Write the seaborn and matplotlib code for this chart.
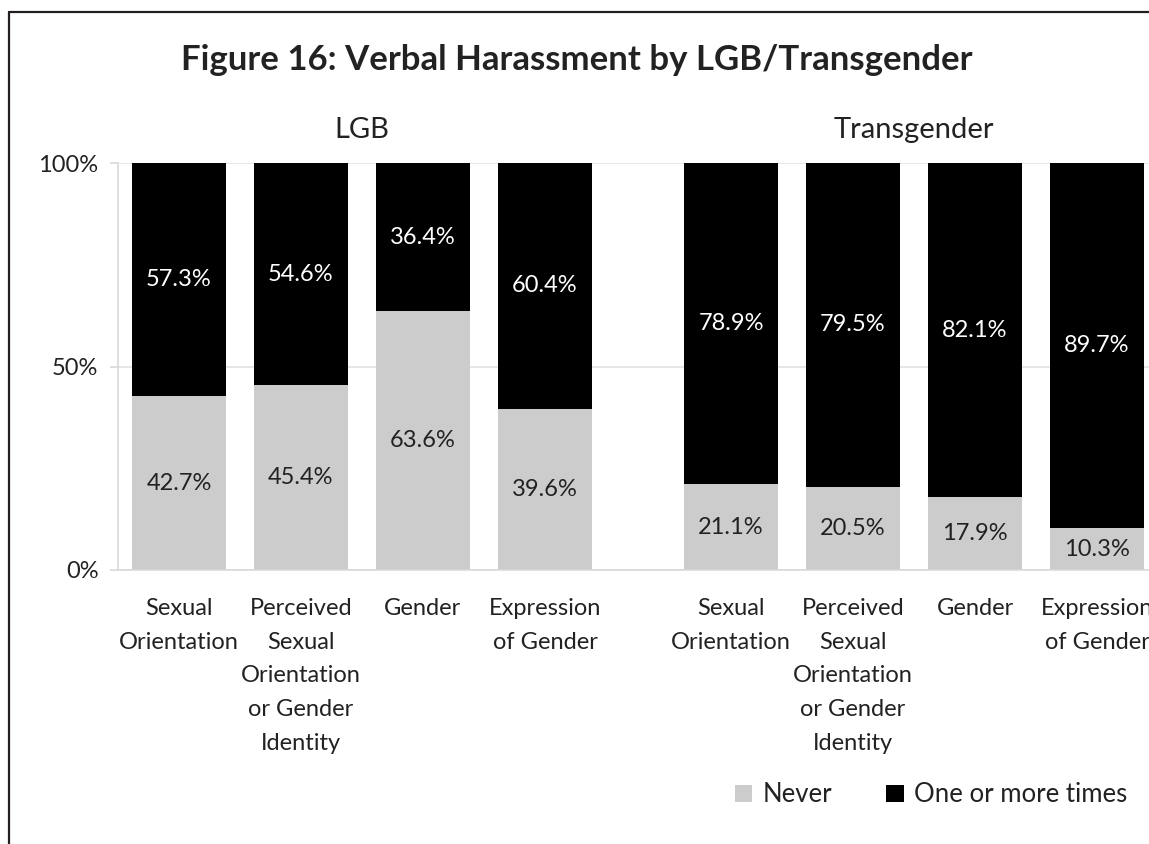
import pandas as pd
import matplotlib.pyplot as plt
import seaborn as sns
from matplotlib.lines import Line2D
from matplotlib.patches import Patch

# Data
groups = ["LGB", "LGB", "LGB", "LGB",
          "Transgender", "Transgender", "Transgender", "Transgender"]
categories = ["Sexual\nOrientation",
              "Perceived\nSexual\nOrientation\nor Gender\nIdentity",
              "Gender",
              "Expression\nof Gender"] * 2
never = [42.7, 45.4, 63.6, 39.6, 21.1, 20.5, 17.9, 10.3]
one_or_more = [57.3, 54.6, 36.4, 60.4, 78.9, 79.5, 82.1, 89.7]

# x positions: 4 bars per group, a narrow gap between the groups
gap = 1.525
pos = [i if i < 4 else i - 1 + gap for i in range(8)]

df = pd.DataFrame({"group": groups, "category": categories, "pos": pos,
                   "never": never, "one_or_more": one_or_more})
df["total"] = df["never"] + df["one_or_more"]

sns.set_style("white")
plt.rcParams["font.family"] = ["Lato", "DejaVu Sans"]

gray = "#cccccc"
dark = "#222222"

fig = plt.figure(figsize=(11.49, 8.44), dpi=100)
ax = fig.add_axes([118 / 1149, 274 / 844, 1040 / 1149, 407 / 844])

# stacked bars: full height in black, never part in gray on top of it
sns.barplot(data=df, x="pos", y="total", native_scale=True, color="black",
            width=0.77, errorbar=None, linewidth=0, saturation=1, ax=ax)
sns.barplot(data=df, x="pos", y="never", native_scale=True, color=gray,
            width=0.77, errorbar=None, linewidth=0, saturation=1, ax=ax)

# value labels
for _, row in df.iterrows():
    ax.text(row["pos"], row["never"] / 2, f"{row['never']:.1f}%",
            ha="center", va="center", fontsize=17, color=dark)
    ax.text(row["pos"], row["never"] + row["one_or_more"] / 2,
            f"{row['one_or_more']:.1f}%",
            ha="center", va="center", fontsize=17, color="white")

ax.set_xlim(-0.5, 7.525 + 0.5)
ax.set_ylim(0, 100)
ax.set_yticks([0, 50, 100])
ax.set_yticklabels(["0%", "50%", "100%"], fontsize=17, color=dark)
ax.yaxis.grid(True, color="#e3e3e3", linewidth=1.2)
ax.set_axisbelow(True)

ax.set_xticks(df["pos"])
ax.set_xticklabels(df["category"], fontsize=17, color=dark, linespacing=1.75)
bounds = [p - 0.5 for p in pos] + [pos[3] + 0.5, pos[-1] + 0.5]
ax.set_xticks(bounds, minor=True)
ax.tick_params(axis="x", which="major", length=0, pad=20)
ax.tick_params(axis="x", which="minor", length=6, color="#d9d9d9", width=1.2)
ax.tick_params(axis="y", length=6, color="#d9d9d9", width=1.2, pad=8,
               left=True)
ax.set_xlabel("")
ax.set_ylabel("")

for side in ["top", "right"]:
    ax.spines[side].set_visible(False)
for side in ["left", "bottom"]:
    ax.spines[side].set_color("#d9d9d9")
    ax.spines[side].set_linewidth(1.2)

# group headers
for name in ["LGB", "Transgender"]:
    xs = df.loc[df["group"] == name, "pos"]
    ax.text(xs.mean(), 108, name, ha="center", va="center",
            fontsize=21, color=dark)

fig.text(577 / 1149, 1 - 60 / 844,
         "Figure 16: Verbal Harassment by LGB/Transgender",
         ha="center", va="center", fontsize=25, fontweight="bold", color=dark)

handles = [Patch(facecolor=gray, edgecolor="none", label="Never"),
           Patch(facecolor="black", edgecolor="none", label="One or more times")]
fig.legend(handles=handles, loc="center left",
           bbox_to_anchor=(722 / 1149, 1 - 795 / 844), ncol=2, frameon=False,
           fontsize=18.5, handlelength=0.68, handleheight=0.68,
           handletextpad=0.4, columnspacing=2.1, borderpad=0,
           labelcolor=dark)

# border around the figure (clipped on the right and bottom)
fig.add_artist(Line2D([9 / 1149, 9 / 1149], [0, 1 - 12 / 844],
                      transform=fig.transFigure, color="#231f20", linewidth=1.6))
fig.add_artist(Line2D([9 / 1149, 1], [1 - 12 / 844, 1 - 12 / 844],
                      transform=fig.transFigure, color="#231f20", linewidth=1.6))

plt.savefig("out.png", dpi=100)
